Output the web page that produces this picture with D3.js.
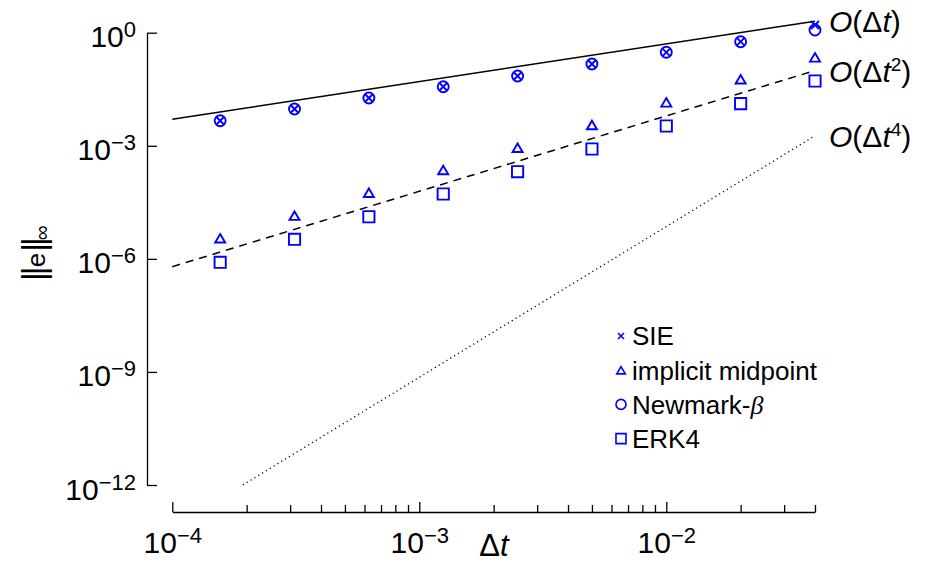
<!DOCTYPE html>
<html>
<head>
<meta charset="utf-8">
<script src="https://cdn.jsdelivr.net/npm/d3@7"></script>
<style>
  html, body { margin: 0; padding: 0; background: #fff; }
  svg { display: block; font-family: "Liberation Sans", Arial, Helvetica, sans-serif; }
</style>
</head>
<body>
<svg id="chart" width="926" height="563"></svg>
<script>
// Step sizes and max-norm errors of each integrator
const timeSteps      = [1.5625e-4, 3.125e-4, 6.25e-4, 1.25e-3, 2.5e-3, 5e-3, 1e-2, 2e-2, 4e-2];
const sieErrors      = [4.62e-3, 9.46e-3, 1.85e-2, 3.69e-2, 7.10e-2, 0.148, 0.302, 0.577, 1.60];
const midpointErrors = [3.51e-6, 1.40e-5, 5.69e-5, 2.28e-4, 8.89e-4, 3.56e-3, 1.42e-2, 5.81e-2, 0.222];
const newmarkErrors  = [4.62e-3, 9.46e-3, 1.85e-2, 3.69e-2, 7.10e-2, 0.148, 0.302, 0.577, 1.18];
const erk4Errors     = [8.09e-7, 3.30e-6, 1.31e-5, 5.25e-5, 2.05e-4, 8.20e-4, 3.35e-3, 1.31e-2, 5.23e-2];

// Reference slopes C * dt^p
const refOrders       = [1, 2, 4];
const refCoefficients = [50.5, 62, 720];

// Axes
const xDomain = [1e-4, 4e-2];
const yDomain = [1e-12, 1];
const xTickExponents = [-4, -3, -2];
const yTickExponents = [0, -3, -6, -9, -12];

const legendLabels = ["SIE", "implicit midpoint", "Newmark-", "ERK4"];

const svg = d3.select("#chart");
const blue = "#0000ff";

const x = d3.scaleLog().domain(xDomain).range([172.3, 815]);
const y = d3.scaleLog().domain(yDomain).range([485, 32.7]);

const minus = "\u2212";
function powerLabel(textSel, exp, baseSize, supSize, rise) {
  textSel.text(null);
  textSel.append("tspan").attr("font-size", baseSize).text("10");
  textSel.append("tspan").attr("font-size", supSize).attr("dy", -rise)
    .text(exp < 0 ? minus + (-exp) : String(exp));
}

// y axis, offset to the left of the data, ticks pointing inward
const yAxis = d3.axisLeft(y)
  .tickValues(yTickExponents.map(e => Math.pow(10, e)))
  .tickSizeInner(-10).tickSizeOuter(0).tickPadding(11)
  .tickFormat(() => "");
const gy = svg.append("g").attr("transform", "translate(147,0)").call(yAxis);
gy.select(".domain").attr("stroke", "#000").attr("stroke-width", 1.3);
gy.selectAll(".tick line").attr("stroke", "#000").attr("stroke-width", 1.3);
gy.selectAll(".tick text").each(function (d) {
  const t = d3.select(this).attr("dy", null).attr("y", 14)
    .attr("fill", "#000").attr("text-anchor", "end");
  powerLabel(t, Math.round(Math.log10(d)), 30, 22, 10);
});

// x axis below the data, major and minor ticks pointing up
const xAxis = d3.axisBottom(x)
  .tickValues(xTickExponents.map(e => Math.pow(10, e)))
  .tickSizeInner(-10).tickSizeOuter(0).tickPadding(0)
  .tickFormat(() => "");
const gx = svg.append("g").attr("transform", "translate(0,512)").call(xAxis);
gx.select(".domain").attr("stroke", "#000").attr("stroke-width", 1.3);
gx.selectAll(".tick line").attr("stroke", "#000").attr("stroke-width", 1.3);
gx.selectAll(".tick text").each(function (d) {
  const t = d3.select(this).attr("dy", null).attr("y", 41)
    .attr("fill", "#000").attr("text-anchor", "middle");
  powerLabel(t, Math.round(Math.log10(d)), 30, 22, 10);
});

const majorSet = new Set(xTickExponents.map(e => Math.pow(10, e).toPrecision(6)));
const minorValues = x.ticks().filter(v => !majorSet.has(v.toPrecision(6)));
const xMinor = d3.axisBottom(x).tickValues(minorValues)
  .tickSizeInner(-7).tickSizeOuter(0).tickFormat(() => "");
const gxm = svg.append("g").attr("transform", "translate(0,512)").call(xMinor);
gxm.select(".domain").remove();
gxm.selectAll(".tick line").attr("stroke", "#000").attr("stroke-width", 1.3);

// Axis titles
svg.append("text")
  .attr("x", 494).attr("y", 556).attr("text-anchor", "middle")
  .attr("font-size", 31)
  .call(t => {
    t.append("tspan").text("\u0394");
    t.append("tspan").attr("font-style", "italic").text("t");
  });

svg.append("text")
  .attr("transform", "translate(45,281) rotate(-90)")
  .attr("text-anchor", "start")
  .call(t => {
    t.append("tspan").attr("font-size", 34).attr("letter-spacing", -3).text("||");
    t.append("tspan").attr("font-size", 26).attr("dx", 2).text("e");
    t.append("tspan").attr("font-size", 34).attr("letter-spacing", -3).attr("dx", 1).text("||");
    t.append("tspan").attr("font-size", 21).attr("dy", 4).text("\u221E");
  });

// Reference slope lines
const refDash = ["none", "8,6", "1.2,3.3"];
const refWidth = [1.6, 1.5, 1.3];
const line = d3.line().x(d => x(d[0])).y(d => y(d[1]));
refOrders.forEach((p, i) => {
  const c = refCoefficients[i];
  const tStart = Math.max(xDomain[0], Math.pow(yDomain[0] / c, 1 / p));
  const tEnd = xDomain[1];
  const pts = [[tStart, c * Math.pow(tStart, p)], [tEnd, c * Math.pow(tEnd, p)]];
  svg.append("path")
    .attr("d", line(pts))
    .attr("fill", "none").attr("stroke", "#000")
    .attr("stroke-width", refWidth[i])
    .attr("stroke-dasharray", refDash[i]);

  const lbl = svg.append("text")
    .attr("x", 829).attr("y", y(pts[1][1]) + 11)
    .attr("font-size", 30);
  lbl.append("tspan").attr("font-style", "italic").text("O");
  lbl.append("tspan").text("(\u0394");
  lbl.append("tspan").attr("font-style", "italic").text("t");
  if (p > 1) {
    lbl.append("tspan").attr("font-size", 19).attr("dy", -11).text(String(p));
    lbl.append("tspan").attr("dy", 11).text(")");
  } else {
    lbl.append("tspan").text(")");
  }
});

// Marker shapes
const markers = {
  cross: s => `M${-s},${-s}L${s},${s}M${-s},${s}L${s},${-s}`,
  triangle: s => `M0,${-s * 0.85}L${s},${s * 0.85}L${-s},${s * 0.85}Z`,
  circle: s => `M${s},0A${s},${s} 0 1,1 ${-s},0A${s},${s} 0 1,1 ${s},0Z`,
  square: s => `M${-s},${-s}H${s}V${s}H${-s}Z`
};

const series = [
  { values: sieErrors, shape: "cross", size: 4, legendSize: 3 },
  { values: midpointErrors, shape: "triangle", size: 5, legendSize: 4.3 },
  { values: newmarkErrors, shape: "circle", size: 5.5, legendSize: 5 },
  { values: erk4Errors, shape: "square", size: 5.6, legendSize: 5 }
];

series.forEach(s => {
  svg.append("g").selectAll("path")
    .data(timeSteps.map((t, i) => [t, s.values[i]]))
    .join("path")
    .attr("transform", d => `translate(${x(d[0])},${y(d[1])})`)
    .attr("d", markers[s.shape](s.size))
    .attr("fill", "none").attr("stroke", blue).attr("stroke-width", 1.9);
});

// Legend
const legend = svg.append("g");
series.forEach((s, i) => {
  const cy = 336 + i * 34.2;
  legend.append("path")
    .attr("transform", `translate(621,${cy})`)
    .attr("d", markers[s.shape](s.legendSize))
    .attr("fill", "none").attr("stroke", blue).attr("stroke-width", 1.6);
  const t = legend.append("text").attr("x", 632).attr("y", cy + 9.3).attr("font-size", 26);
  t.append("tspan").text(legendLabels[i]);
  if (s.shape === "circle") {
    t.append("tspan").attr("font-family", "'Liberation Serif', 'DejaVu Serif', serif")
      .attr("font-style", "italic").text("\u03B2");
  }
});
</script>
</body>
</html>
